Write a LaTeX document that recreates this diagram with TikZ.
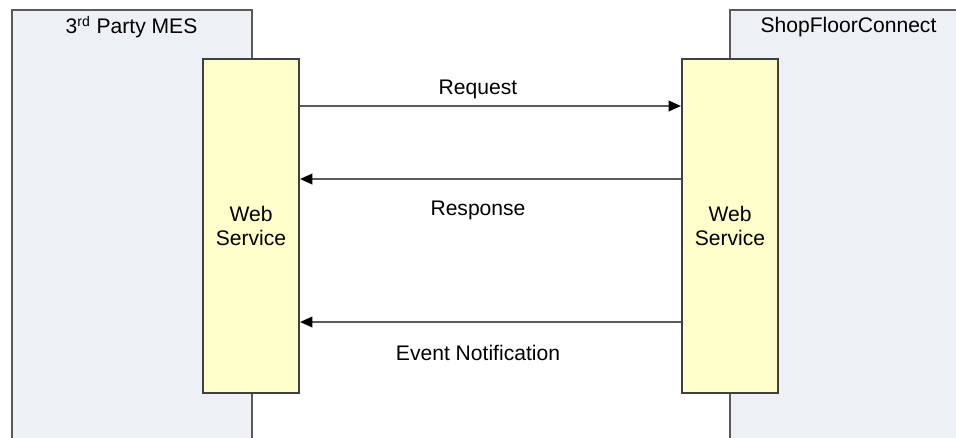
\documentclass[tikz,border=0pt]{standalone}
\usepackage{fontspec}
\setmainfont{Liberation Sans}
\usetikzlibrary{arrows.meta,positioning}

\definecolor{lanefill}{HTML}{EDF0F5}
\definecolor{lanedraw}{HTML}{5A5A5A}
\definecolor{wsfill}{HTML}{FFFFCC}
\definecolor{wsdraw}{HTML}{404040}

\tikzset{%
  lane/.style={
    draw=lanedraw,
    line width=1.1pt
  },
  lane title/.style={
    inner sep=0pt,
    font=\fontsize{12}{14}\selectfont
  },
  service/.style={
    rectangle,
    draw=wsdraw,
    fill=wsfill,
    line width=1.2pt,
    minimum width=1.92cm,
    minimum height=6.68cm,
    align=center,
    font=\fontsize{12}{13.6}\selectfont
  },
  msg/.style={
    draw=lanedraw,
    line width=1.1pt,
    -{Triangle[length=7pt,width=6pt,color=black]}
  },
  msg label/.style={
    inner sep=0pt,
    font=\fontsize{12}{14}\selectfont
  },
}

\begin{document}
\begin{tikzpicture}[x=0.02cm,y=-0.02cm]
\useasboundingbox (0,0) rectangle (956,437);
% lifelines
\fill[lanefill] (12,10) rectangle (252,445);
\draw[lane] (12,445) |- (252,10) -- (252,445);
\fill[lanefill] (730,10) rectangle (970,445);
\draw[lane] (730,445) |- (970,10);
\node[lane title] (mes) at (131.5,27) {3\textsuperscript{rd} Party MES};
\node[lane title] (sfc) at (848.5,27) {ShopFloorConnect};

% web services
\node[service] (mesws) at (251,226) {Web\\Service};
\node[service] (sfcws) at (730,226) {Web\\Service};

% messages
\coordinate (req) at (0,106);
\coordinate (resp) at (0,179);
\coordinate (evt) at (0,322);
\draw[msg] (mesws.east |- req) -- (sfcws.west |- req);
\draw[msg] (sfcws.west |- resp) -- (mesws.east |- resp);
\draw[msg] (sfcws.west |- evt) -- (mesws.east |- evt);
\node[msg label] (reqlabel) at (478,89) {Request};
\node[msg label] (resplabel) at (478,210) {Response};
\node[msg label] (evtlabel) at (478,353) {Event Notification};
\end{tikzpicture}
\end{document}
